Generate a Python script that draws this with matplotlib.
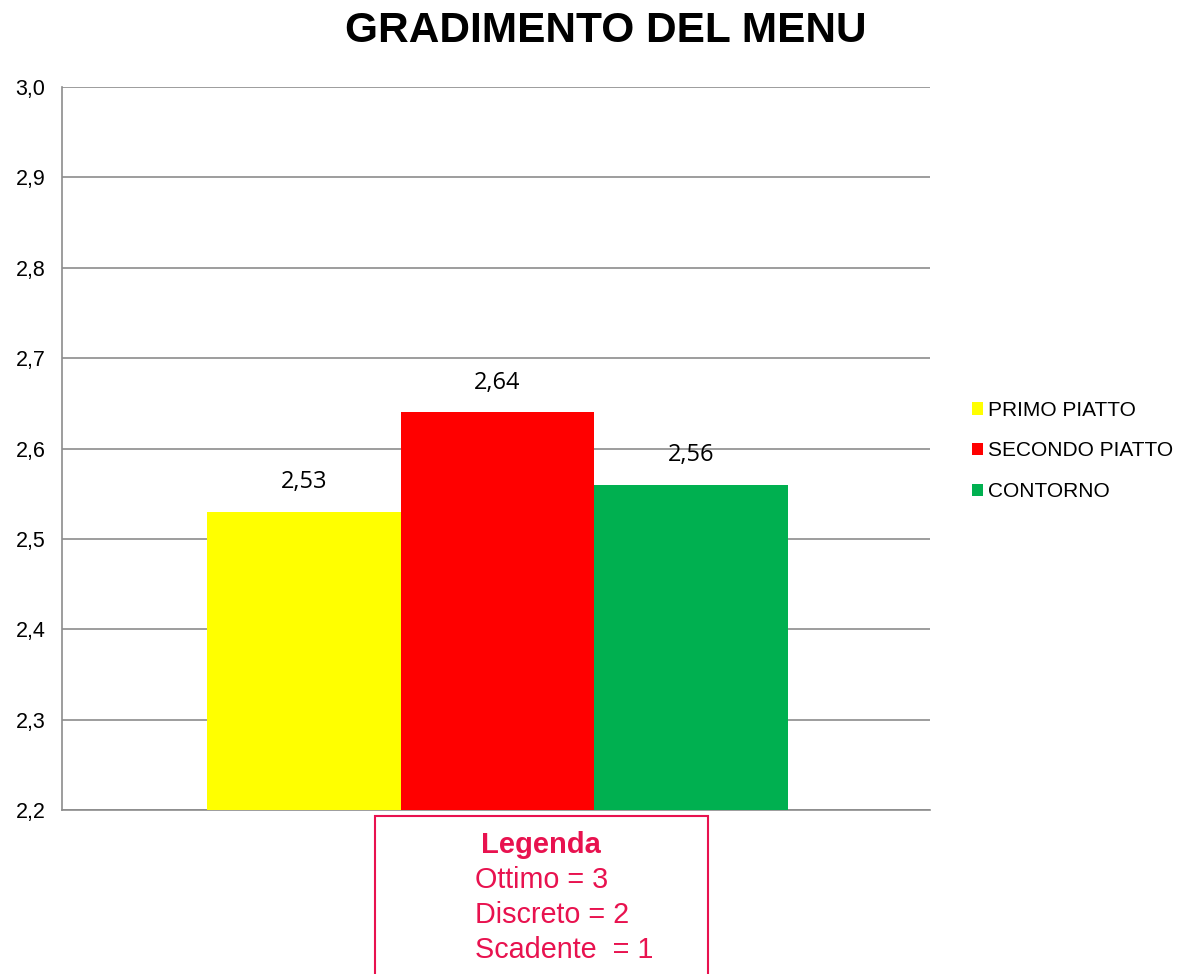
import matplotlib.pyplot as plt
from matplotlib.patches import Rectangle

plt.rcParams['font.family'] = ['Liberation Sans', 'DejaVu Sans']

# data
categories = ['PRIMO PIATTO', 'SECONDO PIATTO', 'CONTORNO']
values = [2.53, 2.64, 2.56]
colors = ['#FFFF00', '#FF0000', '#00B050']
yticks = [2.2, 2.3, 2.4, 2.5, 2.6, 2.7, 2.8, 2.9, 3.0]
legend_lines = ['Ottimo = 3', 'Discreto = 2', 'Scadente  = 1']

fig = plt.figure(figsize=(11.82, 9.74), dpi=100)
ax = fig.add_axes([62 / 1182, 1 - 810 / 974, 868 / 1182, 723 / 974])

x = list(range(len(values)))
bars = ax.bar(x, values, width=1.0, color=colors, label=categories, zorder=3)
ax.set_xlim(-1.2506, 3.235)
ax.set_ylim(2.2, 3.0)
ax.set_yticks(yticks)
ax.set_yticklabels([f'{t:.1f}'.replace('.', ',') for t in yticks], fontsize=15.5)
ax.tick_params(axis='y', length=0, pad=12)
ax.set_xticks([])
ax.grid(axis='y', color='#8c8c8c', linewidth=1.2, zorder=0)
for s in ['top', 'right']:
    ax.spines[s].set_visible(False)
for s in ['left', 'bottom']:
    ax.spines[s].set_color('#8c8c8c')
    ax.spines[s].set_linewidth(1.2)

for xi, v in zip(x, values):
    ax.text(xi, v + 0.033, f'{v:.2f}'.replace('.', ','), ha='center', va='center',
            fontsize=17, family=['Open Sans', 'DejaVu Sans'])

fig.text(606 / 1182, 1 - 31 / 974, 'GRADIMENTO DEL MENU', ha='center', va='center',
         fontsize=30.5, fontweight='bold')

leg = fig.legend(handles=bars, labels=categories, loc='center left',
                 bbox_to_anchor=(953 / 1182, 1 - 451 / 974), frameon=False,
                 fontsize=15, handlelength=0.55, handleheight=0.55, handletextpad=0.25,
                 labelspacing=1.05)

pink = '#E8124F'
fig.patches.append(Rectangle((375 / 1182, -0.01), 333 / 1182, 1 - 816 / 974 + 0.01,
                             transform=fig.transFigure, fill=False, edgecolor=pink,
                             linewidth=1.5))
fig.text(541 / 1182, 1 - 845 / 974, 'Legenda', ha='center', va='center',
         fontsize=21, fontweight='bold', color=pink)
for i, line in enumerate(legend_lines):
    fig.text(475 / 1182, 1 - (880 + 35 * i) / 974, line, ha='left', va='center',
             fontsize=20.7, color=pink)

fig.savefig('out.png', dpi=100)
